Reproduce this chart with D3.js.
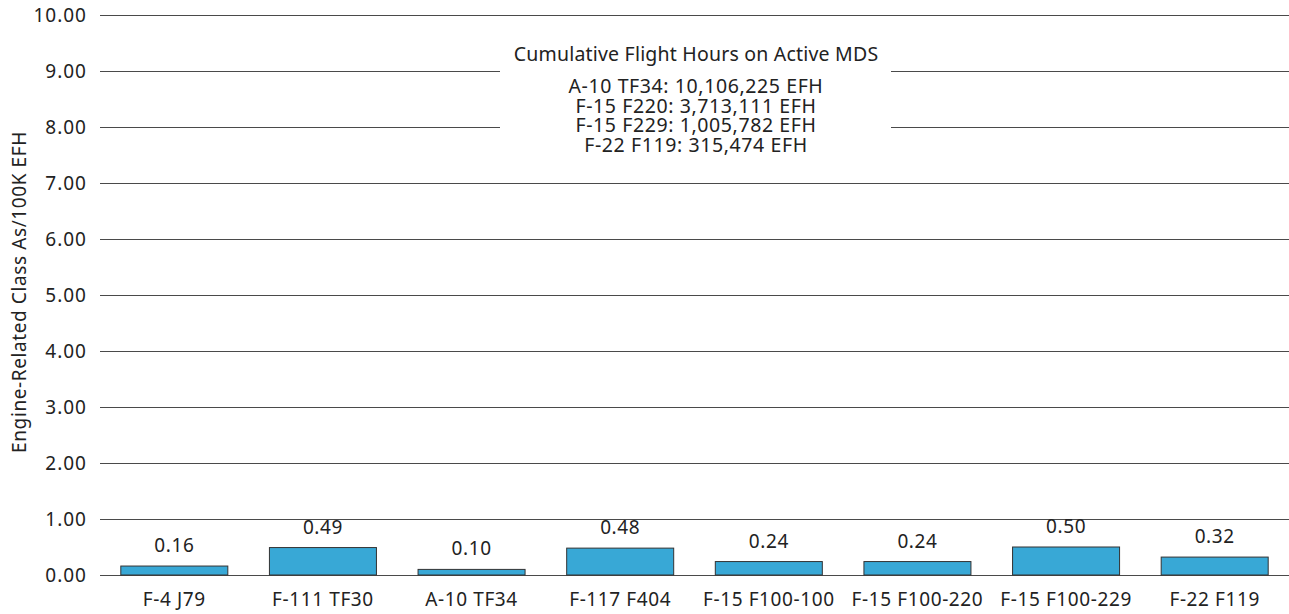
<!DOCTYPE html>
<html><head><meta charset="utf-8">
<script src="https://cdn.jsdelivr.net/npm/d3@7/dist/d3.min.js"></script>
<style>body{margin:0;background:#fff;} svg{display:block;font-family:"Noto Sans",sans-serif;}</style>
</head><body>
<svg id="c" width="1289" height="614"></svg>
<script>
const categories = ["F-4 J79","F-111 TF30","A-10 TF34","F-117 F404","F-15 F100-100","F-15 F100-220","F-15 F100-229","F-22 F119"];
const values = [0.16,0.49,0.10,0.48,0.24,0.24,0.50,0.32];
const yTicks = [0,1,2,3,4,5,6,7,8,9,10];
const yTitle = "Engine-Related Class As/100K EFH";
const noteTitle = "Cumulative Flight Hours on Active MDS";
const noteLines = ["A-10 TF34: 10,106,225 EFH","F-15 F220: 3,713,111 EFH","F-15 F229: 1,005,782 EFH","F-22 F119: 315,474 EFH"];

const svg = d3.select("#c");
const L = 100, R = 1289, T = 15, B = 575;
const FS = 19, LS = "0.6px";
const x = d3.scaleBand().domain(categories).range([L, R]).paddingInner(0.28).paddingOuter(0.14);
const y = d3.scaleLinear().domain([0,10]).range([B, T]);

// gridlines
const yAxis = d3.axisLeft(y).tickValues(yTicks).tickFormat(d3.format(".2f")).tickSize(-(R-L)).tickPadding(13);
const ga = svg.append("g").attr("transform",`translate(${L},0)`).call(yAxis);
ga.select(".domain").remove();
ga.selectAll(".tick line").attr("stroke","#4a4a4a").attr("stroke-width",1.1);
ga.selectAll(".tick text").attr("font-size",FS).attr("fill","#222").attr("font-family","Noto Sans").attr("letter-spacing","1px");

// annotation box
const cx = 696;
svg.append("rect").attr("x",500).attr("y",36).attr("width",391).attr("height",126).attr("fill","#fff");
svg.append("text").attr("x",cx).attr("y",61).attr("text-anchor","middle").attr("font-size",19.5).attr("letter-spacing","0.2px").attr("fill","#222").text(noteTitle);
noteLines.forEach((t,i)=>{
  svg.append("text").attr("x",cx).attr("y",93+i*19.7).attr("text-anchor","middle").attr("font-size",19.5).attr("letter-spacing","0.6px").attr("fill","#222").text(t);
});

// bars
svg.append("g").selectAll("rect").data(values).join("rect")
  .attr("x",(d,i)=>x(categories[i]))
  .attr("y",d=>y(d))
  .attr("width",x.bandwidth())
  .attr("height",d=>y(0)-y(d))
  .attr("fill","#38a8d6").attr("stroke","#333").attr("stroke-width",1);

// value labels
svg.append("g").selectAll("text").data(values).join("text")
  .attr("x",(d,i)=>x(categories[i])+x.bandwidth()/2)
  .attr("y",d=>y(d)-14)
  .attr("text-anchor","middle").attr("font-size",FS).attr("letter-spacing",LS).attr("fill","#222")
  .text(d=>d3.format(".2f")(d));

// x labels
const xAxis = d3.axisBottom(x).tickSize(0).tickPadding(17.5);
const gx = svg.append("g").attr("transform",`translate(0,${B})`).call(xAxis);
gx.select(".domain").remove();
gx.selectAll(".tick text").attr("font-size",FS).attr("letter-spacing",LS).attr("fill","#222").attr("font-family","Noto Sans");

// y title
svg.append("text").attr("transform",`translate(26,${292}) rotate(-90)`).attr("text-anchor","middle")
  .attr("font-size",FS).attr("letter-spacing",LS).attr("fill","#222").text(yTitle);
</script>
</body></html>
